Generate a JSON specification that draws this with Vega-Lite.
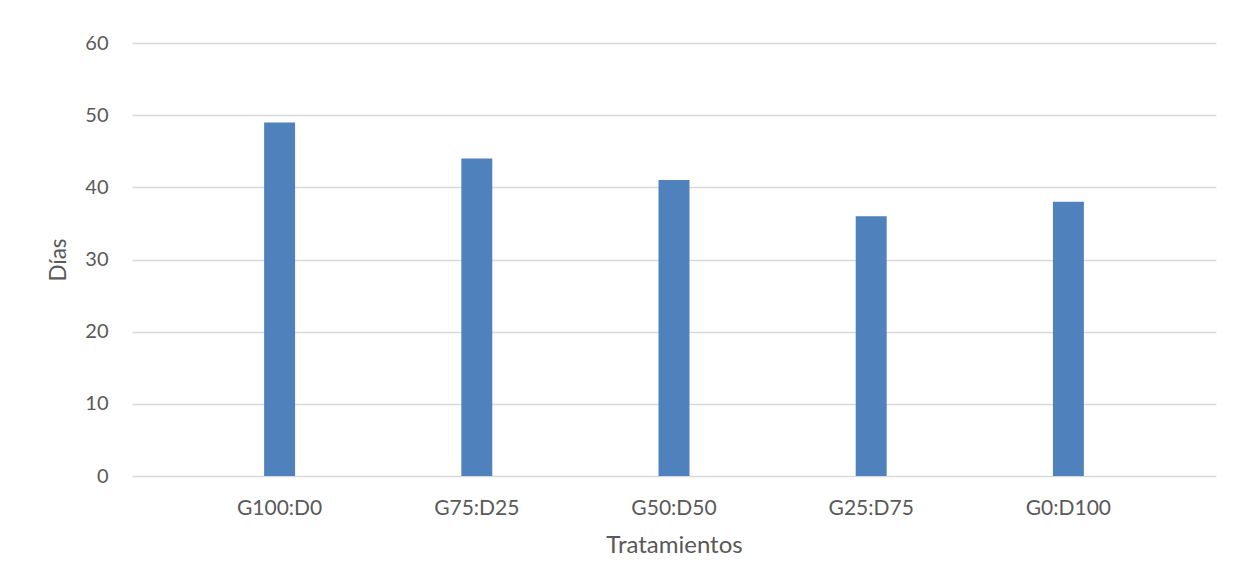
{
  "$schema": "https://vega.github.io/schema/vega-lite/v6.json",
  "width": 1084,
  "height": 433,
  "autosize": "none",
  "padding": {"left": 132, "top": 43, "right": 17, "bottom": 111},
  "background": "white",
  "data": {
    "values": [
      {"Tratamiento": "G100:D0", "Dias": 49},
      {"Tratamiento": "G75:D25", "Dias": 44},
      {"Tratamiento": "G50:D50", "Dias": 41},
      {"Tratamiento": "G25:D75", "Dias": 36},
      {"Tratamiento": "G0:D100", "Dias": 38}
    ]
  },
  "mark": {"type": "bar", "color": "#4F81BD"},
  "encoding": {
    "x": {
      "field": "Tratamiento",
      "type": "nominal",
      "sort": null,
      "scale": {"paddingInner": 0.843, "paddingOuter": 0.67},
      "axis": {
        "title": "Tratamientos",
        "labelAngle": 0,
        "domain": false,
        "ticks": false,
        "labelFontSize": 21,
        "labelPadding": 21,
        "titleFontSize": 24,
        "titlePadding": 15
      }
    },
    "y": {
      "field": "Dias",
      "type": "quantitative",
      "scale": {"domain": [0, 60], "nice": false},
      "axis": {
        "title": "Días",
        "values": [0, 10, 20, 30, 40, 50, 60],
        "domain": false,
        "ticks": false,
        "labelFontSize": 20,
        "labelPadding": 24,
        "titleFontSize": 22.5,
        "titlePadding": 14,
        "gridColor": "#D9D9D9",
        "gridWidth": 1.5
      }
    }
  },
  "config": {
    "view": {"stroke": null},
    "axis": {
      "labelFont": "Lato",
      "labelColor": "#595959",
      "titleFont": "Lato",
      "titleFontWeight": "normal",
      "titleColor": "#595959"
    }
  }
}
